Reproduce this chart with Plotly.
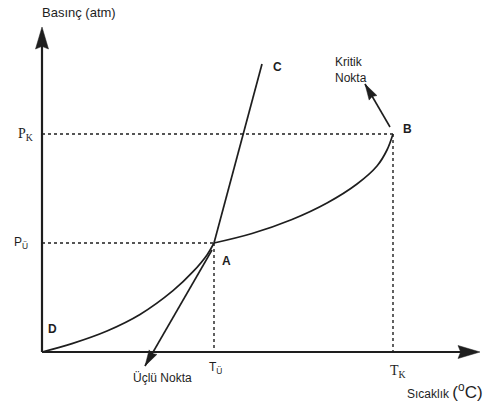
import math
import plotly.graph_objects as go

# Data (temperature units, pressure units)
T_U, P_U = 172, 109      # triple point A
T_K, P_K = 351, 218      # critical point B
C_END = (220, 288)       # end of melting line C
T_MAX, P_MAX = 438, 325  # axis arrow tips

sub_T = [0, 30, 65, 98, 131, 151, 165, 172]       # D -> A (sublimation)
sub_P = [0, 8.4, 21, 37.5, 61.3, 80.3, 97.1, 109]
vap_T = [172, 210, 250, 285, 315, 335, 345, 351]  # A -> B (vaporization)
vap_P = [109, 118.5, 132.5, 149, 168, 186, 202, 218]
melt_T = [T_U, C_END[0]]
melt_P = [P_U, C_END[1]]

ucl_tail, ucl_tip = (170, 102), (103, -14)
krit_tail, krit_tip = (348, 225), (323, 268)

INK = "#1e1e1e"
fig = go.Figure()

def line(xs, ys, w=1.6, dash=None, shape="linear"):
    fig.add_trace(go.Scatter(x=xs, y=ys, mode="lines",
                             line=dict(color=INK, width=w, dash=dash, shape=shape,
                                       smoothing=1.0 if shape == "spline" else None),
                             hoverinfo="skip", showlegend=False))

# dashed guides
line([0, T_K], [P_K, P_K], 1.4, "3px,3px")
line([T_K, T_K], [P_K, 0], 1.4, "3px,3px")
line([0, T_U], [P_U, P_U], 1.4, "3px,3px")
line([T_U, T_U], [P_U, 0], 1.4, "3px,3px")

# curves
line(sub_T, sub_P, 1.7, shape="spline")
line(vap_T, vap_P, 1.7, shape="spline")
line(melt_T, melt_P, 1.7)

# axes
line([0, 0], [0, P_MAX - 18], 2.2)
line([0, T_MAX - 18], [0, 0], 2.2)

def head(tail, tip, L, W, notch=0.0):
    dx, dy = tip[0] - tail[0], tip[1] - tail[1]
    d = math.hypot(dx, dy)
    ux, uy = dx / d, dy / d
    px, py = -uy, ux
    bx, by = tip[0] - ux * L, tip[1] - uy * L
    nx, ny = tip[0] - ux * L * (1 - notch), tip[1] - uy * L * (1 - notch)
    pts = [tip, (bx + px * W, by + py * W), (nx, ny), (bx - px * W, by - py * W)]
    return "M " + " L ".join(f"{x:.2f},{y:.2f}" for x, y in pts) + " Z"

heads = [
    ((0, 0), (0, P_MAX), 22, 6.5, 0.12),
    ((0, 0), (T_MAX, 0), 22, 6.5, 0.12),
    (ucl_tail, ucl_tip, 16, 4.5, 0.1),
    (krit_tail, krit_tip, 16, 4.5, 0.1),
]
for tl, tp, L, W, n in heads:
    fig.add_shape(type="path", path=head(tl, tp, L, W, n), xref="x", yref="y",
                  fillcolor=INK, line=dict(color=INK, width=0.5))

line([ucl_tail[0], ucl_tip[0]], [ucl_tail[1], ucl_tip[1]], 1.6)
line([krit_tail[0], krit_tip[0]], [krit_tail[1], krit_tip[1]], 1.6)

SANS = "Liberation Sans, Arial, sans-serif"
SERIF = "Liberation Serif, Times New Roman, serif"

def label(x, y, text, size=12, family=SANS, xanchor="center", bold=False):
    if bold:
        text = f"<b>{text}</b>"
    fig.add_annotation(x=x, y=y, text=text, showarrow=False, xref="x", yref="y",
                       xanchor=xanchor, yanchor="middle", align="left",
                       font=dict(size=size, family=family, color=INK))

label(-2, 340, "Basınç (atm)", 13, xanchor="left")
label(-17, P_K, "P<sub>K</sub>", 14, SERIF)
label(-21, P_U, "P<sub>Ü</sub>", 12)
label(T_U + 1, -16, "T<sub>Ü</sub>", 12)
label(T_K + 5, -19, "T<sub>K</sub>", 14, SERIF)
label(120, -26, "Üçlü Nokta", 12)
label(363, -39, "Sıcaklık <span style='font-size:17px'>(<sup>o</sup>C)</span>", 12, xanchor="left")
label(291, 282, "Kritik<br>Nokta", 12, xanchor="left")
label(365, 223, "B", 12, bold=True)
label(235, 285, "C", 12, bold=True)
label(184, 91, "A", 12, bold=True)
label(10, 23, "D", 12, bold=True)

fig.update_layout(
    width=504, height=408, margin=dict(l=0, r=0, t=0, b=0),
    paper_bgcolor="white", plot_bgcolor="white",
    xaxis=dict(range=[-42, 462], visible=False, fixedrange=True),
    yaxis=dict(range=[-56, 352], visible=False, fixedrange=True),
    showlegend=False,
)
fig.write_html("out.html", config={"displayModeBar": False},
               post_script="document.body.style.margin='0';document.body.style.overflow='hidden';")
